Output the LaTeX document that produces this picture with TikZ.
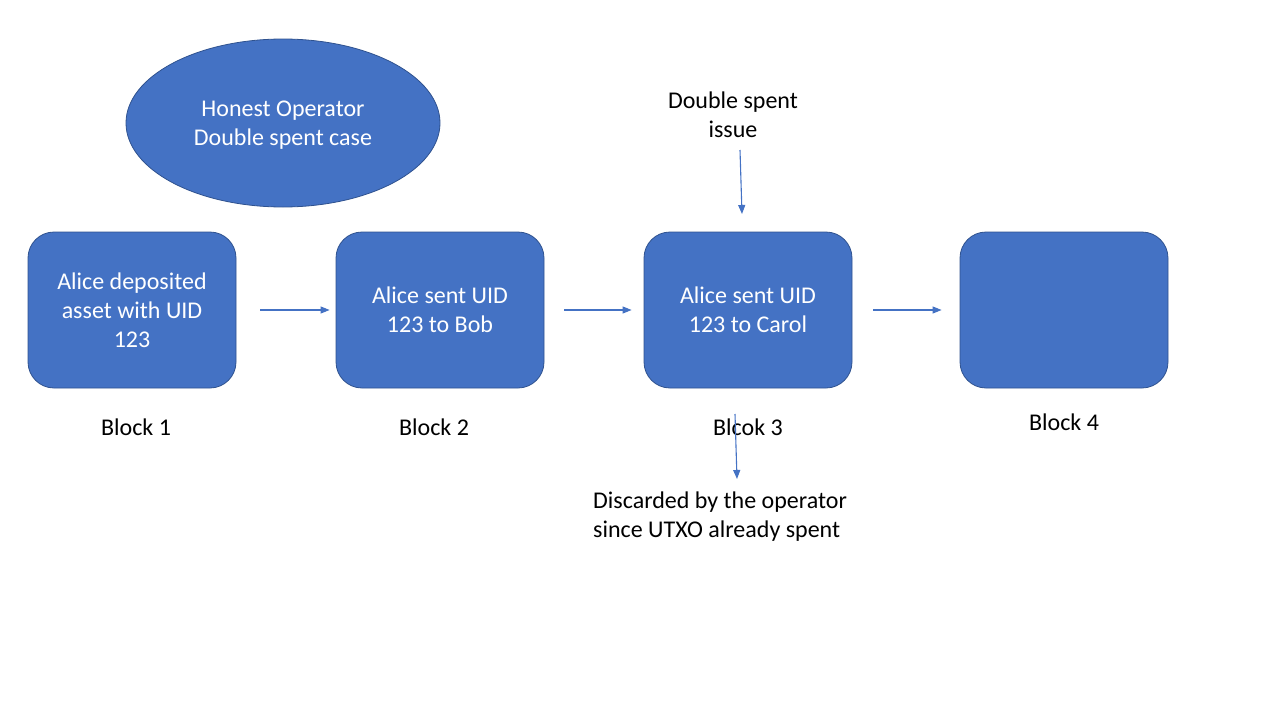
\documentclass[tikz,border=0pt]{standalone}
\usepackage{fontspec}
\setmainfont{Carlito}
\usetikzlibrary{shapes.geometric,arrows.meta}
\definecolor{accent}{HTML}{4472C4}
\definecolor{edgeblue}{HTML}{2F528F}
\tikzset{
  blockbox/.style={draw=edgeblue, line width=0.8pt, fill=accent, rounded corners=26pt,
    minimum width=208pt, minimum height=156pt, text=white, align=center,
    font=\fontsize{24}{29}\selectfont, inner sep=0pt},
  lbl/.style={text=black, align=center, font=\fontsize{24}{29}\selectfont, inner sep=0pt},
  conn/.style={draw=accent, line width=1.1pt, -{Triangle[length=9pt,width=7pt]}},
}
\begin{document}
\begin{tikzpicture}[x=1pt,y=-1pt]
\useasboundingbox (0,0) rectangle (1280,720);
\node[ellipse, draw=edgeblue, line width=0.8pt, fill=accent, minimum width=314pt, minimum height=168pt,
  text=white, align=center, font=\fontsize{24}{29}\selectfont, inner sep=0pt] (ell) at (283,123) {};
\node[lbl, text=white] (elltxt) at (283,125) {Honest Operator\\Double spent case};
\node[blockbox] (b1) at (132,310) {Alice deposited\\asset with UID\\123};
\node[blockbox] (b2) at (440,310) {Alice sent UID\\123 to Bob};
\node[blockbox] (b3) at (748,310) {Alice sent UID\\123 to Carol};
\node[blockbox] (b4) at (1064,310) {};
\node[lbl] (l1) at (136,427) {Block 1};
\node[lbl] (l2) at (434,427) {Block 2};
\node[lbl] (l3) at (748,427) {Blcok 3};
\node[lbl] (l4) at (1064,422) {Block 4};
\node[lbl] (ds) at (733,115) {Double spent\\issue};
\node[lbl, align=left, anchor=west] (disc) at (593,517) {Discarded by the operator\\since UTXO already spent};
\coordinate (dsA) at (740,150);
\coordinate (dsB) at (742,214);
\coordinate (dcA) at (735,414);
\coordinate (dcB) at (737,479);
\draw[conn, shorten <=24pt, shorten >=6pt] (b1.east) -- (b2.west);
\draw[conn, shorten <=20pt, shorten >=12pt] (b2.east) -- (b3.west);
\draw[conn, shorten <=21pt, shorten >=18pt] (b3.east) -- (b4.west);
\draw[conn] (dsA) -- (dsB);
\draw[conn] (dcA) -- (dcB);
\end{tikzpicture}
\end{document}
